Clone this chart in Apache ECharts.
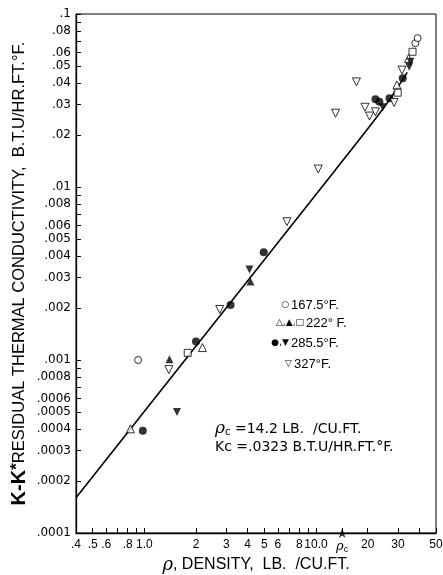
<!DOCTYPE html>
<html><head><meta charset="utf-8">
<script src="https://cdn.jsdelivr.net/npm/echarts@6/dist/echarts.min.js"></script>
<style>html,body{margin:0;padding:0;background:#fff}#c{width:443px;height:575px}</style>
</head><body><div id="c"></div>
<script>
// ---- tick data ----
const xTickValues = [0.4,0.5,0.6,0.7,0.8,0.9,1,2,3,4,5,6,7,8,9,10,14.2,20,30,40,50];
const xLabelValues = [0.4,0.5,0.6,0.8,1,2,3,4,5,6,8,10,14.2,20,30,50];
const xLabelTexts = ['.4','.5','.6','.8','1.0','2','3','4','5','6','8','10.0','{r|ρ}{s|c}','20','30','50'];
const yTickValues = [0.0001,0.0002,0.0003,0.0004,0.0005,0.0006,0.0007,0.0008,0.0009,0.001,0.002,0.003,0.004,0.005,0.006,0.007,0.008,0.009,0.01,0.02,0.03,0.04,0.05,0.06,0.07,0.08,0.09,0.1];
const yLabelValues = [0.1,0.08,0.06,0.05,0.04,0.03,0.02,0.01,0.008,0.006,0.005,0.004,0.003,0.002,0.001,0.0008,0.0006,0.0005,0.0004,0.0003,0.0002,0.0001];
const yLabelTexts = ['.1','.08','.06','.05','.04','.03','.02','.01','.008','.006','.005','.004','.003','.002','.001','.0008','.0006','.0005','.0004','.0003','.0002','.0001'];

// ---- series data [density, K-K*] ----
const s167open = [[0.92,0.001],[37.9,0.0678],[39.1,0.0725]];
const s222openTri = [[0.83,0.0004],[2.18,0.00118],[29.6,0.0389],[34.6,0.0554]];
const s222filledTri = [[1.40,0.00101],[4.15,0.00284]];
const s222square = [[1.79,0.0011],[29.9,0.0351],[36.5,0.0605]];
const s285circle = [[0.98,0.00039],[2.0,0.00128],[3.18,0.00208],[4.96,0.0042],[22.2,0.0321],[23.4,0.0311],[26.8,0.0326],[32.0,0.0425]];
const s285downTri = [[1.55,0.0005],[4.10,0.00334],[24.5,0.0289],[34.9,0.0496],[35.5,0.053]];
const s327openDown = [[1.39,0.00088],[2.75,0.00196],[6.77,0.0063],[10.3,0.0127],[13.0,0.0267],[17.2,0.0405],[19.3,0.0289],[20.5,0.0257],[22.2,0.0272],[28.5,0.0308],[31.7,0.0474]];
const fitLine = [[0.4,0.00016],[13,0.0126],[25,0.029],[34,0.046]];
const rhoC = 14.2;

const FONT = 'Liberation Sans';
const DJ = 'DejaVu Sans';
function lookup(vals, texts, v){
  for (let i=0;i<vals.length;i++){ if (Math.abs(Math.log10(v)-Math.log10(vals[i]))<1e-4) return texts[i]; }
  return '';
}
const chart = echarts.init(document.getElementById('c'), null, {renderer:'canvas'});
const openStyle = {color:'#fff', borderColor:'#000', borderWidth:1};
const fillStyle = {color:'#000', borderColor:'#000', borderWidth:0};
function sc(name, data, symbol, size, style, rot){
  return {type:'scatter', name, data, symbol, symbolSize:size, symbolRotate:rot||0, itemStyle:style, z:3, silent:true};
}
chart.setOption({
  animation:false,
  backgroundColor:'#fff',
  grid:{left:76, right:7, top:14, bottom:42, containLabel:false, outerBoundsMode:'none', show:true, borderColor:'#000', borderWidth:1, backgroundColor:'transparent'},
  xAxis:{
    type:'log', logBase:10, min:0.4, max:50,
    axisLine:{show:true, lineStyle:{color:'#000', width:1.3}},
    axisTick:{show:true, inside:true, length:5, lineStyle:{color:'#000'}, customValues:xTickValues},
    splitLine:{show:false}, minorTick:{show:false}, minorSplitLine:{show:false},
    axisLabel:{customValues:xLabelValues, color:'#000', fontFamily:FONT, fontSize:12, margin:6,
      formatter:v=>lookup(xLabelValues,xLabelTexts,v),
      rich:{r:{fontFamily:'DejaVu Serif',fontStyle:'italic',fontSize:13,color:'#000'}, s:{fontSize:9,color:'#000',verticalAlign:'bottom',padding:[6,0,0,0]}}},
    name:'{r|ρ}{n|, DENSITY,  LB.  /CU.FT.}', nameLocation:'middle', nameGap:23, nameMoveOverlap:false,
    nameTextStyle:{color:'#000', rich:{
      r:{fontFamily:'DejaVu Serif',fontStyle:'italic',fontSize:18,color:'#000'},
      n:{fontFamily:FONT,fontSize:16,color:'#000'}}}
  },
  yAxis:{
    type:'log', logBase:10, min:0.0001, max:0.1,
    axisLine:{show:true, lineStyle:{color:'#000', width:1.3}},
    axisTick:{show:true, inside:true, length:5, lineStyle:{color:'#000'}, customValues:yTickValues},
    splitLine:{show:false}, minorTick:{show:false}, minorSplitLine:{show:false},
    axisLabel:{customValues:yLabelValues, color:'#000', fontFamily:DJ, fontSize:12, margin:5,
      formatter:v=>lookup(yLabelValues,yLabelTexts,v)},
    name:'{k|K-K}{st|*}{n|RESIDUAL THERMAL CONDUCTIVITY,  B.T.U/HR.FT.°F.}', nameLocation:'middle', nameGap:47, nameMoveOverlap:false,
    nameTextStyle:{color:'#000', rich:{
      k:{fontFamily:FONT,fontSize:20,fontWeight:'bold',color:'#000'},
      st:{fontFamily:FONT,fontSize:17,fontWeight:'bold',color:'#000',verticalAlign:'top'},
      n:{fontFamily:FONT,fontSize:16.5,color:'#000'}}}
  },
  series:[
    {type:'line', data:fitLine, symbol:'none', smooth:0.3, lineStyle:{color:'#000', width:1.6}, z:2, silent:true},
    sc('167.5', s167open, 'circle', 7, openStyle),
    sc('222a', s222openTri, 'triangle', 8, openStyle),
    sc('222b', s222filledTri, 'triangle', 8, fillStyle),
    sc('222c', s222square, 'rect', 7, openStyle),
    sc('285a', s285circle, 'circle', 8, fillStyle),
    sc('285b', s285downTri, 'triangle', 8, fillStyle, 180),
    sc('327', s327openDown, 'triangle', 8, openStyle, 180),
    {type:'scatter', data:[[rhoC,0.0001]], symbol:'arrow', symbolSize:[5,10], symbolOffset:[0,-5], itemStyle:{color:'#000'}, silent:true}
  ],
  graphic:[
    {type:'text', x:289, y:305, style:{text:'○', font:'9px DejaVu Sans', fill:'#000', align:'right', verticalAlign:'middle'}},
    {type:'text', x:291, y:305, style:{text:'167.5°F.', font:'13px '+FONT, fill:'#000', align:'left', verticalAlign:'middle'}},
    {type:'text', x:304, y:323, style:{text:'△,▲,□', font:'9px DejaVu Sans', fill:'#000', align:'right', verticalAlign:'middle'}},
    {type:'text', x:306, y:323, style:{text:'222° F.', font:'13px '+FONT, fill:'#000', align:'left', verticalAlign:'middle'}},
    {type:'text', x:289, y:343, style:{text:'●,▼', font:'9px DejaVu Sans', fill:'#000', align:'right', verticalAlign:'middle'}},
    {type:'text', x:291, y:343, style:{text:'285.5°F.', font:'13px '+FONT, fill:'#000', align:'left', verticalAlign:'middle'}},
    {type:'text', x:292, y:364, style:{text:'▽', font:'9px DejaVu Sans', fill:'#000', align:'right', verticalAlign:'middle'}},
    {type:'text', x:294, y:364, style:{text:'327°F.', font:'13px '+FONT, fill:'#000', align:'left', verticalAlign:'middle'}},
    {type:'text', x:215, y:429, style:{text:'{r|ρ}{s|c} =14.2 LB.  /CU.FT.', font:'14px '+DJ, fill:'#000', align:'left', verticalAlign:'middle',
      rich:{r:{font:'italic 17px DejaVu Serif', fill:'#000'}, s:{font:'10px '+DJ, fill:'#000', verticalAlign:'bottom'}}}},
    {type:'text', x:215, y:447, style:{text:'Kc =.0323 B.T.U/HR.FT.°F.', font:'14px '+DJ, fill:'#000', align:'left', verticalAlign:'middle'}}
  ]
});
</script></body></html>
